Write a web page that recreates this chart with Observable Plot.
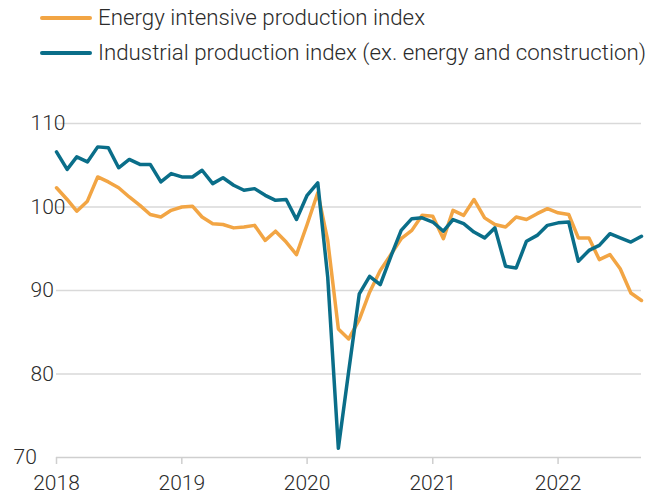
<!DOCTYPE html>
<html><head><meta charset="utf-8">
<script src="https://cdn.jsdelivr.net/npm/d3@7"></script>
<script src="https://cdn.jsdelivr.net/npm/@observablehq/plot@0.6"></script>
<style>
body{margin:0;background:#fff;}
#wrap{position:relative;width:647px;height:496px;font-family:Roboto,sans-serif;font-weight:300;color:#2b2b2b;}
#legend{position:absolute;left:0;top:0;width:647px;height:80px;z-index:2;}
.sw{position:absolute;left:40px;width:52px;height:4px;border-radius:2px;}
.lt{position:absolute;left:98px;white-space:nowrap;line-height:24px;font-size:22.3px;}
</style></head><body><div id="wrap"><div id="legend"></div></div>
<script>
const months = ["2018-01","2018-02","2018-03","2018-04","2018-05","2018-06","2018-07","2018-08","2018-09","2018-10","2018-11","2018-12",
"2019-01","2019-02","2019-03","2019-04","2019-05","2019-06","2019-07","2019-08","2019-09","2019-10","2019-11","2019-12",
"2020-01","2020-02","2020-03","2020-04","2020-05","2020-06","2020-07","2020-08","2020-09","2020-10","2020-11","2020-12",
"2021-01","2021-02","2021-03","2021-04","2021-05","2021-06","2021-07","2021-08","2021-09","2021-10","2021-11","2021-12",
"2022-01","2022-02","2022-03","2022-04","2022-05","2022-06","2022-07","2022-08","2022-09"];
const energy = [102.3,100.9,99.5,100.7,103.6,103.0,102.3,101.2,100.2,99.1,98.8,99.6,
100.0,100.1,98.8,98.0,97.9,97.5,97.6,97.8,96.0,97.1,95.8,94.3,
97.9,101.7,96.0,85.4,84.2,86.5,89.8,92.4,94.3,96.2,97.2,99.0,
98.9,96.2,99.6,99.0,100.9,98.7,97.9,97.6,98.8,98.5,99.2,99.8,
99.3,99.1,96.3,96.3,93.7,94.3,92.6,89.7,88.8];
const industrial = [106.6,104.5,106.0,105.4,107.2,107.1,104.7,105.7,105.1,105.1,103.0,104.0,
103.6,103.6,104.4,102.8,103.5,102.6,102.0,102.2,101.4,100.8,100.9,98.5,
101.4,102.9,91.6,71.1,80.3,89.6,91.7,90.7,94.1,97.2,98.6,98.7,
98.2,97.1,98.5,98.0,97.0,96.3,97.5,92.9,92.7,95.9,96.6,97.8,
98.1,98.2,93.5,94.8,95.4,96.8,96.3,95.8,96.5];
const seriesNames = ["Energy intensive production index","Industrial production index (ex. energy and construction)"];
const seriesColors = ["#f2a544","#0a6e89"];
const yTicks = [70,80,90,100,110];
const xTickYears = ["2018","2019","2020","2021","2022"];

const parseM = d3.utcParse("%Y-%m");
const parseY = d3.utcParse("%Y");
const seriesValues = [energy, industrial];
const seriesRows = seriesValues.map((vals, s) => months.map((m, i) => ({date: parseM(m), value: vals[i], series: seriesNames[s]})));

// legend
const legend = document.getElementById("legend");
const rowCenters = [18, 53];
seriesNames.forEach((name, i) => {
  const sw = document.createElement("div");
  sw.className = "sw";
  sw.style.background = seriesColors[i];
  sw.style.top = (rowCenters[i] - 2) + "px";
  legend.appendChild(sw);
  const t = document.createElement("div");
  t.className = "lt";
  t.textContent = name;
  t.style.top = (rowCenters[i] - 13) + "px";
  legend.appendChild(t);
});

const plot = Plot.plot({
  width: 647, height: 496,
  marginTop: 123, marginBottom: 39, marginLeft: 56, marginRight: 6,
  style: {fontFamily: "Roboto, sans-serif", fontSize: "21px", fontWeight: 300, color: "#2b2b2b", background: "transparent"},
  x: {type: "utc", domain: [parseM(months[0]), parseM(months[months.length - 1])]},
  y: {domain: [70, 110], axis: null},
  color: {domain: seriesNames, range: seriesColors},
  marks: [
    Plot.gridY(yTicks.filter(d => d > 70), {stroke: "#d9d9d9", strokeOpacity: 1, strokeWidth: 1.5}),
    Plot.ruleY([70], {stroke: "#cfcfcf", strokeWidth: 1.5}),
    Plot.axisX(xTickYears.map(parseY), {tickFormat: "%Y", tickSize: 7, tickPadding: 11, stroke: "#cfcfcf", strokeWidth: 1.5, fill: "#2b2b2b", label: null}),
    Plot.text(yTicks.filter(d => d > 70), {y: d => d, text: d => String(d), frameAnchor: "left", textAnchor: "start", dx: -26, fill: "#2b2b2b"}),
    Plot.text(yTicks.filter(d => d === 70), {y: d => d, text: d => String(d), frameAnchor: "left", textAnchor: "start", dx: -43, fill: "#2b2b2b"}),
    Plot.line(seriesRows[0], {x: "date", y: "value", stroke: "series", strokeWidth: 3.5, strokeLinejoin: "round"}),
    Plot.line(seriesRows[1], {x: "date", y: "value", stroke: "series", strokeWidth: 3.5, strokeLinejoin: "round"})
  ]
});
document.getElementById("wrap").appendChild(plot);
</script></body></html>
